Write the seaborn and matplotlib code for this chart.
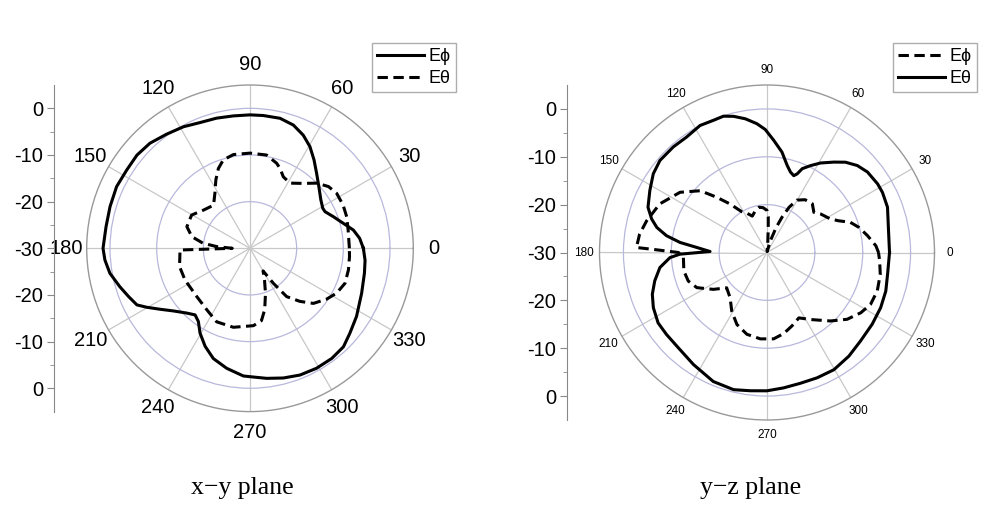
import numpy as np
import pandas as pd
import matplotlib
matplotlib.use("Agg")
import matplotlib.pyplot as plt
import seaborn as sns

plt.rcParams['font.family'] = ['Liberation Sans', 'DejaVu Sans']

# ---------------- data (angle in degrees, level in dB) ----------------
# x-y plane
xy_ephi_ang = [0, 5.2, 10, 15, 20.8, 26, 28.8, 34.4, 41.8, 48.4, 54.1, 59.5, 64.8, 70.6, 77,
               84.3, 90, 97.2, 104.4, 111.7, 118.7, 126.2, 133.6, 140.5, 147.6, 155.2, 163.4,
               171.4, 180, 184.6, 190.1, 196.4, 201.7, 206.6, 209.7, 214.1, 219.3, 225.7,
               230.5, 234.8, 239.5, 245.4, 251.6, 259, 267, 271.5, 277.3, 284.4, 291.5,
               299, 306.6, 313.5, 319.6, 327.4, 338, 347.7, 354, 360]
xy_ephi_db = [-5.7, -6.4, -7.5, -9.3, -10.9, -12.1, -12.2, -11.6, -10.2, -8.5, -6.6, -4.7,
              -3.2, -2.0, -1.4, -1.4, -1.4, -1.4, -1.2, -1.0, -0.3, 0.3, 1.1, 1.4, 1.3, 1.5,
              1.3, 1.2, 1.5, 1.2, 0.5, -0.9, -2.0, -2.9, -4.5, -6.7, -8.8, -10.6, -11.5,
              -10.8, -8.9, -6.9, -5.1, -3.8, -2.6, -2.4, -1.9, -1.3, -0.8, -0.6, -0.6, -0.9,
              -1.9, -2.9, -4.2, -4.9, -5.2, -5.7]

xy_eth_ang = [0, 10.6, 18.1, 24.9, 32.4, 38.2, 44.3, 50.6, 58.4, 65, 69.4, 72.6, 79.9, 90,
              100, 106.8, 111.6, 116.5, 122.5, 130.2, 140.6, 150.3, 161.1, 168.7, 173.9,
              177.1, 180, 181.4, 194.5, 206, 222.2, 234.9, 245.6, 258.1, 272.5, 279,
              283.5, 289, 294.5, 300, 303.7, 307.2, 313.2, 319, 326.4, 332.6, 339.8, 347.6,
              355.2, 360]
xy_eth_db = [-8.7, -8.6, -8.2, -8.0, -8.0, -8.6, -10.0, -12.0, -13.6, -13.1, -11.7, -10.9,
             -9.7, -9.6, -9.6, -10.2, -11.6, -13.6, -16.0, -17.9, -17.1, -15.6, -15.7, -17.3,
             -19.9, -22.9, -26.2, -15.0, -14.4, -14.5, -14.6, -13.9, -12.7, -12.7, -13.4,
             -14.3, -16.5, -19.8, -22.5, -24.4, -21.0, -17.0, -14.4, -12.0, -10.3, -9.1,
             -8.3, -8.4, -8.6, -8.7]

# y-z plane
yz_ephi_ang = [0, 3.5, 9.5, 15.3, 20, 23.8, 27.8, 35.7, 40.6, 47, 54.2, 60.3, 64, 67, 70,
               74, 80, 86, 87, 88, 90, 95, 100, 106, 112, 117, 122, 127.2, 132.3, 137.2,
               145.3, 155.6, 165.2, 171.8, 177.8, 178.6, 180, 183.4, 192.5, 199.9, 206.6,
               214.5, 221.2, 230.8, 239, 247.3, 256.2, 265.6, 274.4, 281.6, 288.8, 296,
               303, 312.8, 320.2, 327.3, 333.4, 340.8, 349.1, 355.8, 360]
yz_ephi_db = [-6.7, -7.2, -8.7, -10.1, -11.5, -13.6, -15.0, -16.2, -17.1, -16.1, -16.4,
              -17.4, -19.5, -22.0, -24.5, -27.5, -29.8, -27.5, -25.0, -22.5, -21.2, -20.6,
              -20.4, -21.0, -21.8, -20.8, -19.9, -17.3, -14.4, -11.0, -7.9, -5.4, -4.0,
              -3.1, -2.7, -6.9, -11.5, -12.5, -12.2, -12.5, -13.6, -16.4, -18.8, -17.8,
              -15.7, -13.7, -12.4, -11.9, -11.9, -12.7, -13.8, -14.8, -13.3, -10.5, -8.2,
              -6.7, -5.8, -5.6, -5.9, -6.4, -6.7]

yz_eth_ang = [0, 11.7, 20.6, 27.5, 31.8, 38.7, 43.9, 49, 53.5, 59.1, 63.4, 67.2, 69, 70.8,
              73.7, 77, 81.5, 86.6, 90.8, 94.5, 99.2, 103.8, 107.7, 112, 117.8, 124.8,
              131.6, 139.3, 145.3, 152.1, 159.2, 163.8, 167.2, 170.5, 173.4, 175.9, 179,
              181.1, 183, 188, 194.2, 200, 205.9, 212.9, 219.2, 227.1, 236.7, 247.4, 256.3,
              263.1, 270, 277, 284.4, 291.8, 299.7, 308.3, 316.6, 325.7, 334.1, 342,
              349.8, 360]
yz_eth_db = [-4.4, -4.1, -3.1, -2.8, -2.8, -3.1, -3.8, -5.0, -6.5, -8.2, -9.7, -11.0,
             -12.4, -13.0, -12.5, -11.3, -8.8, -6.5, -4.3, -3.0, -1.7, -0.7, -0.1, -0.2,
             0.0, -0.6, -0.5, -0.5, -1.1, -2.3, -3.4, -4.9, -6.4, -8.7, -11.7, -15.3,
             -18.1, -11.8, -9.7, -7.4, -5.8, -4.5, -3.6, -2.9, -2.9, -2.8, -2.0, -0.8,
             -0.5, -0.9, -1.1, -1.5, -1.8, -1.8, -1.8, -2.4, -3.1, -3.4, -3.6, -3.9,
             -4.4, -4.4]

angle_ticks = [0, 30, 60, 90, 120, 150, 180, 210, 240, 270, 300, 330]
side_ticks = [-30, -20, -10, 0, 10, 20, 30]
side_labels = ['0', '-10', '-20', '-30', '-20', '-10', '0']
captions = ['x\u2212y plane', 'y\u2212z plane']

R_MIN, R_MAX = -30, 5

# ---------------- figure ----------------
W, H = 996, 517
fig = plt.figure(figsize=(W / 100, H / 100), dpi=100)

SOLID = '-'
DASHED = (0, (3.4, 1.8))


def polar_panel(cx, cy, rad, side_x, label_size, pad, series, legend_xy):
    rect = [(cx - rad) / W, (H - cy - rad) / H, 2 * rad / W, 2 * rad / H]
    ax = fig.add_axes(rect, projection='polar')
    for ang, db, ls, lab in series:
        df = pd.DataFrame({'theta': np.deg2rad(ang), 'r': db})
        sns.lineplot(data=df, x='theta', y='r', ax=ax, sort=False, estimator=None,
                     color='black', lw=2.2, linestyle=ls, label=lab)
    ax.set_theta_zero_location('E')
    ax.set_theta_direction(1)
    ax.set_rlim(R_MIN, R_MAX)
    ax.set_rticks([-20, -10, 0])
    ax.set_yticklabels([])
    ax.set_xticks(np.deg2rad(angle_ticks))
    ax.set_xticklabels([str(a) for a in angle_ticks], fontsize=label_size)
    ax.set_xticks(np.deg2rad(np.arange(15, 360, 30)), minor=True)
    ax.tick_params(axis='x', which='major', pad=pad, length=4, direction='in',
                   color='#999999')
    ax.tick_params(axis='x', which='minor', length=3, direction='in', color='#999999')
    ax.xaxis.grid(True, color='#c8c8c8', lw=0.9)
    ax.yaxis.grid(True, color='#b8b8dc', lw=0.9)
    ax.spines['polar'].set_color('#999999')
    ax.spines['polar'].set_linewidth(1.0)
    ax.set_xlabel('')
    ax.set_ylabel('')
    leg = ax.legend(loc='upper left', bbox_to_anchor=(legend_xy[0] / W, 1 - legend_xy[1] / H),
                    bbox_transform=fig.transFigure, fontsize=13, frameon=True, fancybox=False,
                    edgecolor='#999999', handlelength=2.6, handletextpad=0.25,
                    labelspacing=0.25, borderpad=0.3, borderaxespad=0)
    leg.get_frame().set_linewidth(1.0)

    # side dB scale
    sax = fig.add_axes([side_x / W, (H - cy - rad) / H, 0.0005, 2 * rad / H])
    sax.set_ylim(-35, 35)
    sax.set_yticks(side_ticks)
    sax.set_yticklabels(side_labels, fontsize=14.5)
    sax.set_yticks([-25, -15, -5, 5, 15, 25], minor=True)
    sax.tick_params(axis='y', which='major', length=5, direction='out', color='#888888', pad=3)
    sax.tick_params(axis='y', which='minor', length=3, direction='out', color='#888888')
    sax.set_xticks([])
    for s in ['top', 'right', 'bottom']:
        sax.spines[s].set_visible(False)
    sax.spines['left'].set_color('#888888')
    sax.patch.set_visible(False)
    return ax


polar_panel(250, 248.3, 163.3, 54, 14.5, 8,
            [(xy_ephi_ang, xy_ephi_db, SOLID, 'E\u03d5'),
             (xy_eth_ang, xy_eth_db, DASHED, 'E\u03b8')],
            (372, 43))

polar_panel(767, 252.5, 167.5, 567, 8.5, 4,
            [(yz_ephi_ang, yz_ephi_db, DASHED, 'E\u03d5'),
             (yz_eth_ang, yz_eth_db, SOLID, 'E\u03b8')],
            (893, 43))

fig.text(242 / W, 1 - 488 / H, captions[0], ha='center', va='center',
         family=['Liberation Serif', 'DejaVu Serif'], fontsize=18.5)
fig.text(751 / W, 1 - 488 / H, captions[1], ha='center', va='center',
         family=['Liberation Serif', 'DejaVu Serif'], fontsize=18.5)

fig.savefig('out.png', dpi=100, facecolor='white')
